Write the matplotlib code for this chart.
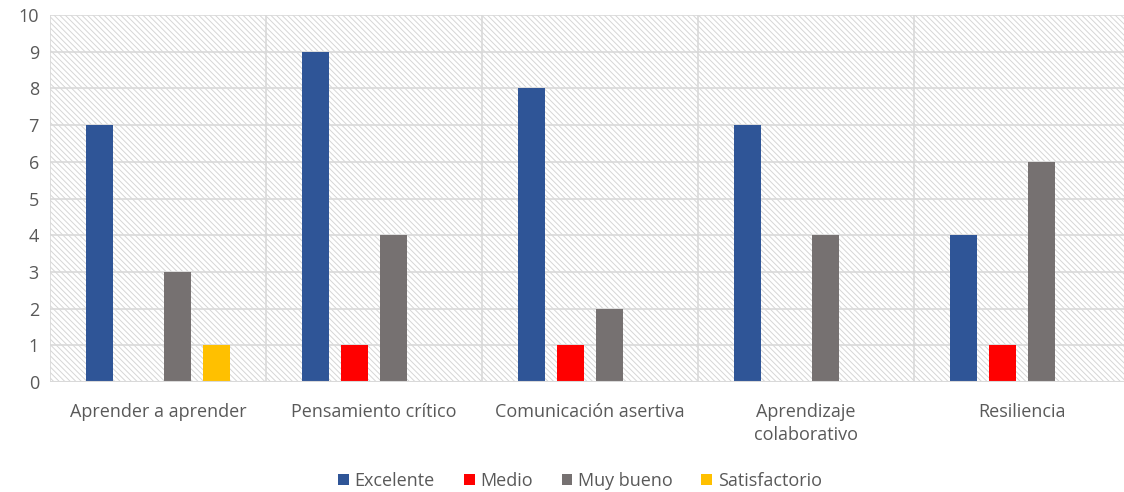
import numpy as np
import matplotlib.pyplot as plt
from matplotlib.patches import Rectangle

# Data
categorias = ["Aprender a aprender", "Pensamiento crítico", "Comunicación asertiva",
              "Aprendizaje\ncolaborativo", "Resiliencia"]
excelente = [7, 9, 8, 7, 4]
medio = [0, 1, 1, 0, 1]
muy_bueno = [3, 4, 2, 4, 6]
satisfactorio = [1, 0, 0, 0, 0]

series = [("Excelente", excelente, "#2f5597"),
          ("Medio", medio, "#ff0000"),
          ("Muy bueno", muy_bueno, "#767171"),
          ("Satisfactorio", satisfactorio, "#ffc000")]

plt.rcParams["font.family"] = ["Open Sans", "DejaVu Sans"]
plt.rcParams["hatch.linewidth"] = 0.7
text_color = "#595959"
grid_color = "#d9d9d9"

fig = plt.figure(figsize=(11.24, 4.92), dpi=100)
ax = fig.add_axes([50 / 1124, 1 - 382 / 492, 1080 / 1124, 367 / 492])

# hatched background
bg = Rectangle((0, 0), 1, 1, transform=ax.transAxes, facecolor="white",
               edgecolor="#d6d6d6", hatch="\\" * 6, linewidth=0, zorder=0)
ax.add_patch(bg)

x = np.arange(len(categorias))
width = 0.125
step = 0.18
offsets = (np.arange(len(series)) - 1.5) * step
for (name, vals, color), off in zip(series, offsets):
    ax.bar(x + off, vals, width, color=color, label=name, zorder=3)

ax.set_xlim(-0.5, len(categorias) - 0.5)
ax.set_ylim(0, 10)
ax.set_yticks(range(0, 11))

# gridlines and category separators
for y in range(1, 11):
    ax.axhline(y, color=grid_color, linewidth=1.2, zorder=1)
for b in np.arange(0.5, len(categorias) - 0.5):
    ax.axvline(b, color=grid_color, linewidth=1.2, zorder=1)
ax.axhline(0, color=grid_color, linewidth=1.5, zorder=4)
ax.axvline(-0.5, color=grid_color, linewidth=1.2, zorder=1)

for s in ax.spines.values():
    s.set_visible(False)

ax.set_xticks(x)
ax.set_xticklabels(categorias, fontsize=13, color=text_color, va="top", linespacing=1.35)
ax.tick_params(axis="x", length=0, pad=15)
ax.tick_params(axis="y", length=0, pad=8, labelsize=13, labelcolor=text_color)

leg = fig.legend(loc="center", bbox_to_anchor=(580 / 1124, 1 - 481 / 492), ncol=4,
                 frameon=False, fontsize=13, handlelength=0.6, handleheight=0.6,
                 handletextpad=0.3, columnspacing=1.6)
for t in leg.get_texts():
    t.set_color(text_color)

fig.savefig("out.png", dpi=100)
